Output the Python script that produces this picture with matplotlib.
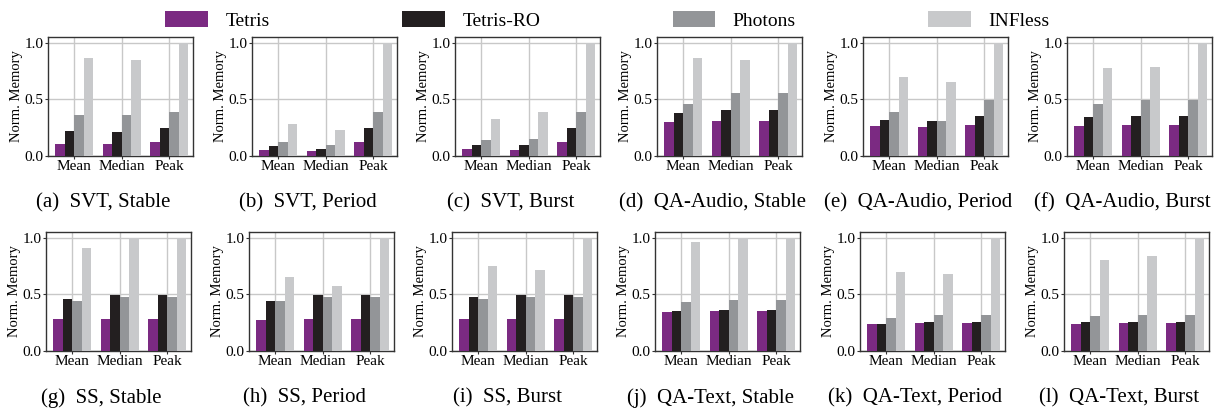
import numpy as np
import matplotlib
matplotlib.use("Agg")
import matplotlib.pyplot as plt

plt.rcParams['font.family'] = ['Liberation Serif', 'DejaVu Serif']

categories = ["Mean", "Median", "Peak"]
systems = ["Tetris", "Tetris-RO", "Photons", "INFless"]
colors = ["#7b2a82", "#231f20", "#939598", "#c8c9cb"]

titles = ["(a)  SVT, Stable", "(b)  SVT, Period", "(c)  SVT, Burst",
          "(d)  QA-Audio, Stable", "(e)  QA-Audio, Period", "(f)  QA-Audio, Burst",
          "(g)  SS, Stable", "(h)  SS, Period", "(i)  SS, Burst",
          "(j)  QA-Text, Stable", "(k)  QA-Text, Period", "(l)  QA-Text, Burst"]

# each panel: rows = Mean, Median, Peak ; cols = Tetris, Tetris-RO, Photons, INFless
svt_stable = [[0.11, 0.22, 0.365, 0.865], [0.11, 0.21, 0.365, 0.85], [0.12, 0.245, 0.39, 1.0]]
svt_period = [[0.05, 0.085, 0.12, 0.285], [0.04, 0.06, 0.095, 0.23], [0.12, 0.245, 0.39, 1.0]]
svt_burst = [[0.06, 0.095, 0.14, 0.33], [0.05, 0.095, 0.15, 0.385], [0.12, 0.245, 0.39, 1.0]]
qaa_stable = [[0.30, 0.38, 0.46, 0.865], [0.31, 0.41, 0.56, 0.85], [0.31, 0.41, 0.56, 1.0]]
qaa_period = [[0.265, 0.32, 0.385, 0.70], [0.26, 0.31, 0.31, 0.65], [0.275, 0.355, 0.49, 1.0]]
qaa_burst = [[0.265, 0.345, 0.46, 0.775], [0.275, 0.355, 0.49, 0.785], [0.275, 0.355, 0.49, 1.0]]
ss_stable = [[0.28, 0.46, 0.44, 0.905], [0.285, 0.49, 0.475, 1.0], [0.285, 0.49, 0.475, 1.0]]
ss_period = [[0.27, 0.44, 0.44, 0.655], [0.285, 0.49, 0.475, 0.575], [0.285, 0.49, 0.475, 1.0]]
ss_burst = [[0.28, 0.475, 0.455, 0.75], [0.285, 0.49, 0.475, 0.715], [0.285, 0.49, 0.475, 1.0]]
qat_stable = [[0.34, 0.35, 0.43, 0.96], [0.35, 0.365, 0.45, 1.0], [0.35, 0.365, 0.45, 1.0]]
qat_period = [[0.235, 0.24, 0.295, 0.70], [0.25, 0.26, 0.315, 0.68], [0.25, 0.26, 0.315, 1.0]]
qat_burst = [[0.24, 0.26, 0.305, 0.805], [0.25, 0.26, 0.315, 0.835], [0.25, 0.26, 0.315, 1.0]]

panels = [svt_stable, svt_period, svt_burst, qaa_stable, qaa_period, qaa_burst,
          ss_stable, ss_period, ss_burst, qat_stable, qat_period, qat_burst]

W, H = 1215, 411
fig = plt.figure(figsize=(W / 100, H / 100), dpi=100)

lefts = [[48, 252, 455, 657, 863, 1067], [46, 249, 452, 655, 860, 1064]]
tops = [37, 232]
aw, ah = 145, 119
bw = 0.2
x = np.arange(len(categories))

for i, (data, title) in enumerate(zip(panels, titles)):
    r, c = divmod(i, 6)
    l, t = lefts[r][c], tops[r]
    ax = fig.add_axes([l / W, (H - t - ah) / H, aw / W, ah / H])
    vals = np.array(data)
    for k in range(4):
        ax.bar(x - 0.3 + k * bw, vals[:, k], bw, color=colors[k], label=systems[k], zorder=3)
    ax.set_xlim(-0.55, 2.5)
    ax.set_ylim(0, 1.05)
    ax.set_yticks([0, 0.5, 1.0])
    ax.set_yticklabels(["0.0", "0.5", "1.0"])
    ax.set_xticks(x)
    ax.set_xticklabels(categories)
    ax.grid(True, color="#c8c8c8", lw=1.0, zorder=0)
    ax.tick_params(labelsize=11, length=2, pad=1, color="#333333")
    ax.set_ylabel("Norm. Memory", fontsize=10.5, labelpad=1)
    for s in ax.spines.values():
        s.set_color("#333333")
        s.set_linewidth(1.0)
    fig.text((l + aw / 2 - 17) / W, 1 - (t + ah + 47) / H, title, ha="center", va="center", fontsize=15)
    if i == 0:
        handles, labels = ax.get_legend_handles_labels()

fig.legend(handles, labels, loc="upper center", bbox_to_anchor=(0.5, 1.015), ncol=4,
           frameon=False, fontsize=14, handlelength=2.2, handleheight=0.9,
           handletextpad=0.9, columnspacing=6.8)

fig.savefig("out.png", dpi=100)
